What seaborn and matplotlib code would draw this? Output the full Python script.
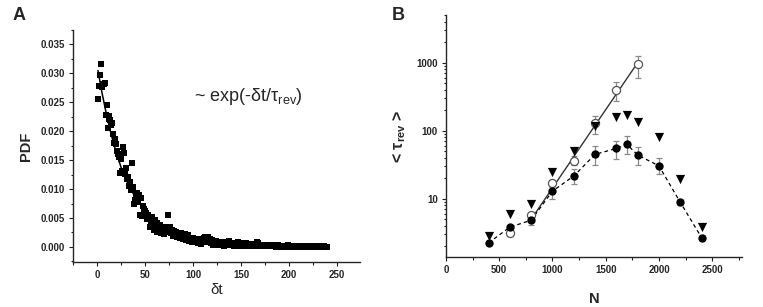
import numpy as np
import pandas as pd
import matplotlib
matplotlib.use("Agg")
import matplotlib.pyplot as plt
import matplotlib.ticker as mticker
import seaborn as sns

# ---- panel A: PDF of reversal intervals ----
dt_values = list(range(1, 241))
pdf_values = [
    0.0255, 0.0278, 0.0298, 0.0317, 0.0277, 0.0282, 0.0282, 0.0283, 0.0228, 0.0246,
    0.0205, 0.0226, 0.0222, 0.0219, 0.0210, 0.0215, 0.0195, 0.0180, 0.0186, 0.0178,
    0.0166, 0.0160, 0.0155, 0.0128, 0.0152, 0.0131, 0.0172, 0.0162, 0.0126, 0.0137,
    0.0118, 0.0121, 0.0105, 0.0112, 0.0098, 0.0145, 0.0103, 0.0100, 0.0075, 0.0082,
    0.0088, 0.0093, 0.0078, 0.0090, 0.0055, 0.0085, 0.0053, 0.0070, 0.0065, 0.0062,
    0.0058, 0.0048, 0.0055, 0.0050, 0.0035, 0.0045, 0.0052, 0.0041, 0.0030, 0.0046,
    0.0037, 0.0042, 0.0025, 0.0036, 0.0030, 0.0038, 0.0024, 0.0029, 0.0033, 0.0022,
    0.0035, 0.0028, 0.0031, 0.0055, 0.0026, 0.0034, 0.0024, 0.0030, 0.0019, 0.0027,
    0.0022, 0.0025, 0.0017, 0.0023, 0.0020, 0.0015, 0.0024, 0.0018, 0.0021, 0.0013,
    0.0019, 0.0022, 0.0012, 0.0017, 0.0020, 0.0010, 0.0016, 0.0013, 0.0009, 0.0015,
    0.0011, 0.0008, 0.0014, 0.0010, 0.0006, 0.0012, 0.0009, 0.0005, 0.0013, 0.0010,
    0.0016, 0.0012, 0.0017, 0.0009, 0.0015, 0.0018, 0.0011, 0.0014, 0.0007, 0.0012,
    0.0003, 0.0008, 0.0005, 0.0010, 0.0004, 0.0007, 0.0003, 0.0006, 0.0009, 0.0004,
    0.0007, 0.0002, 0.0005, 0.0008, 0.0003, 0.0006, 0.0004, 0.0010, 0.0005, 0.0003,
    0.0007, 0.0004, 0.0002, 0.0006, 0.0003, 0.0005, 0.0008, 0.0002, 0.0004, 0.0006,
    0.0003, 0.0001, 0.0005, 0.0003, 0.0006, 0.0002, 0.0004, 0.0001, 0.0003, 0.0005,
    0.0002, 0.0004, 0.0001, 0.0003, 0.0002, 0.0005, 0.0008, 0.0006, 0.0003, 0.0004,
    0.0002, 0.0003, 0.0001, 0.0004, 0.0002, 0.0003, 0.0001, 0.0002, 0.0004, 0.0001,
    0.0002, 0.0001, 0.0003, 0.0001, 0.0002, 0.0000, 0.0002, 0.0001, 0.0003, 0.0001,
    0.0002, 0.0000, 0.0001, 0.0002, 0.0001, 0.0000, 0.0002, 0.0001, 0.0003, 0.0001,
    0.0000, 0.0001, 0.0002, 0.0000, 0.0001, 0.0001, 0.0000, 0.0002, 0.0001, 0.0000,
    0.0001, 0.0000, 0.0001, 0.0002, 0.0000, 0.0001, 0.0000, 0.0001, 0.0002, 0.0000,
    0.0001, 0.0000, 0.0001, 0.0000, 0.0000, 0.0001, 0.0000, 0.0000, 0.0001, 0.0000,
    0.0000, 0.0001, 0.0000, 0.0000, 0.0000, 0.0001, 0.0000, 0.0000, 0.0000, 0.0000,
]
fit_dt = [1, 5, 10, 15, 20, 25, 30, 40, 50, 60, 70, 80, 100, 120, 150, 200, 240]
fit_pdf = [0.0305, 0.0268, 0.0228, 0.0193, 0.0163, 0.0138, 0.0117, 0.0085, 0.0063,
           0.0047, 0.0036, 0.0027, 0.0015, 0.0008, 0.0003, 0.0001, 0.00003]

# ---- panel B: mean reversal time vs N ----
n_open = [600, 800, 1000, 1200, 1400, 1600, 1800]
tau_open = [3.1, 5.8, 17, 36.5, 130, 395, 945]
open_lo = [2.9, 5.3, 15, 31, 90, 270, 600]
open_hi = [3.3, 6.3, 19, 43, 165, 520, 1250]
fit_n = [800, 1800]
fit_tau = [5.0, 1000]

n_filled = [400, 600, 800, 1000, 1200, 1400, 1600, 1700, 1800, 2000, 2200, 2400]
tau_filled = [2.25, 3.85, 4.85, 13, 21.6, 45, 55, 63, 44, 30.5, 8.9, 2.7]
filled_lo = [2.1, 3.5, 4.2, 10, 16.5, 31, 38, 45, 31, 23, 8.2, 2.5]
filled_hi = [2.4, 4.2, 5.6, 16, 27, 60, 71, 83, 58, 40, 9.8, 2.9]

n_tri = [400, 600, 800, 1000, 1200, 1400, 1600, 1700, 1800, 2000, 2200, 2400]
tau_tri = [2.85, 5.9, 8.4, 25, 51, 116, 159, 169, 133, 80, 19.5, 3.8]

sns.set_theme(style="ticks")
plt.rcParams["font.family"] = ["Liberation Sans", "DejaVu Sans"]
plt.rcParams["mathtext.fontset"] = "custom"
plt.rcParams["mathtext.rm"] = "Liberation Sans"
plt.rcParams["mathtext.it"] = "Liberation Sans:italic"
plt.rcParams["mathtext.bf"] = "Liberation Sans:bold"
plt.rcParams["axes.linewidth"] = 1.0
plt.rcParams["xtick.major.size"] = 3
plt.rcParams["ytick.major.size"] = 3
plt.rcParams["xtick.minor.size"] = 1.8
plt.rcParams["ytick.minor.size"] = 1.8

fig = plt.figure(figsize=(7.63, 3.07), dpi=100)
ax_a = fig.add_axes([0.0957, 0.1466, 0.3761, 0.7557])
ax_b = fig.add_axes([0.5845, 0.1629, 0.3880, 0.7880])

# panel A
df_a = pd.DataFrame({"dt": dt_values, "pdf": pdf_values})
sns.scatterplot(data=df_a, x="dt", y="pdf", marker="s", s=17, color="black",
                linewidth=0, ax=ax_a)
sns.lineplot(x=fit_dt, y=fit_pdf, color="black", linewidth=1.1, ax=ax_a)
ax_a.set_xlim(-25, 274)
ax_a.set_ylim(-0.0026, 0.0375)
ax_a.xaxis.set_major_locator(mticker.MultipleLocator(50))
ax_a.xaxis.set_minor_locator(mticker.MultipleLocator(25))
ax_a.yaxis.set_major_locator(mticker.MultipleLocator(0.005))
ax_a.yaxis.set_minor_locator(mticker.MultipleLocator(0.0025))
ax_a.yaxis.set_major_formatter(mticker.FormatStrFormatter("%.3f"))
ax_a.set_xlabel("δt", fontsize=11, labelpad=2)
ax_a.set_ylabel("PDF", fontsize=10.5, fontweight="bold", labelpad=5)
ax_a.text(101, 0.026, r"~ exp(-δt/τ$_{\rm rev}$)", fontsize=13, ha="left", va="center")
sns.despine(ax=ax_a)

# panel B
ax_b.set_yscale("log")
ax_b.errorbar(n_open, tau_open,
              yerr=[np.array(tau_open) - np.array(open_lo), np.array(open_hi) - np.array(tau_open)],
              fmt="none", ecolor="#8a8a8a", elinewidth=0.9, capsize=2, capthick=0.9)
ax_b.errorbar(n_filled, tau_filled,
              yerr=[np.array(tau_filled) - np.array(filled_lo), np.array(filled_hi) - np.array(tau_filled)],
              fmt="none", ecolor="#8a8a8a", elinewidth=0.9, capsize=2, capthick=0.9)
sns.lineplot(x=fit_n, y=fit_tau, color="#333333", linewidth=1.0, ax=ax_b)
sns.lineplot(x=n_filled, y=tau_filled, color="black", linewidth=0.9,
             linestyle=(0, (3, 2.5)), ax=ax_b)
sns.scatterplot(x=n_open, y=tau_open, marker="o", s=34, facecolor="white",
                edgecolor="#555555", linewidth=0.9, ax=ax_b, zorder=3)
sns.scatterplot(x=n_tri, y=tau_tri, marker="v", s=44, color="black",
                linewidth=0, ax=ax_b, zorder=4)
sns.scatterplot(x=n_filled, y=tau_filled, marker="o", s=36, color="black",
                linewidth=0, ax=ax_b, zorder=5)
ax_b.set_xlim(0, 2780)
ax_b.set_ylim(1.4, 5000)
ax_b.xaxis.set_major_locator(mticker.MultipleLocator(500))
ax_b.xaxis.set_minor_locator(mticker.MultipleLocator(250))
ax_b.yaxis.set_major_locator(mticker.FixedLocator([10, 100, 1000]))
ax_b.yaxis.set_minor_locator(mticker.LogLocator(base=10, subs=np.arange(2, 10)))
ax_b.yaxis.set_major_formatter(mticker.FuncFormatter(lambda v, p: f"{v:.0f}"))
ax_b.yaxis.set_minor_formatter(mticker.NullFormatter())
ax_b.set_xlabel("N", fontsize=10.5, fontweight="bold", labelpad=12)
ax_b.set_ylabel(r"< τ$_{\mathbf{rev}}$ >", fontsize=11.5, fontweight="bold", labelpad=6)
sns.despine(ax=ax_b)

for ax in (ax_a, ax_b):
    ax.tick_params(which="both", direction="out", width=0.8, color="#222222", pad=3)
    for lab in ax.get_xticklabels() + ax.get_yticklabels():
        lab.set_fontsize(7)
        lab.set_fontweight("bold")

fig.text(0.016, 0.95, "A", fontsize=13, fontweight="bold", va="center", ha="left")
fig.text(0.514, 0.95, "B", fontsize=13, fontweight="bold", va="center", ha="left")

fig.savefig("out.png", dpi=100)
